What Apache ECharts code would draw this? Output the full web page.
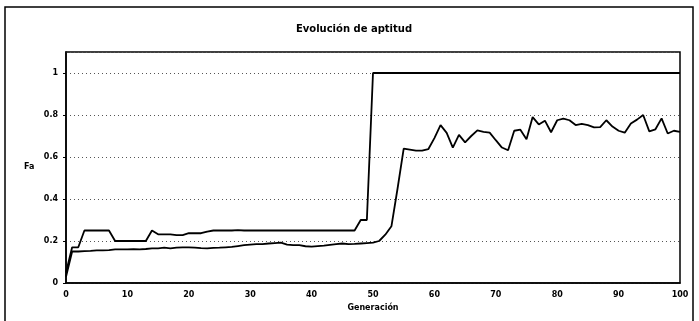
<!DOCTYPE html>
<html>
<head>
<meta charset="utf-8">
<script src="https://cdn.jsdelivr.net/npm/echarts@6/dist/echarts.min.js"></script>
<style>
  html, body { margin: 0; padding: 0; background: #fff; }
  #chart { width: 699px; height: 321px; }
</style>
</head>
<body>
<div id="chart"></div>
<script>
// generaciones 0..100
var generaciones = [];
for (var g = 0; g <= 100; g++) generaciones.push(g);

// mejor aptitud por generacion
var mejor = [
  0.05, 0.17, 0.17, 0.25, 0.25, 0.25, 0.25, 0.25, 0.20, 0.20,
  0.20, 0.20, 0.20, 0.20, 0.25, 0.232, 0.232, 0.232, 0.228, 0.228,
  0.237, 0.237, 0.237, 0.245, 0.25, 0.25, 0.25, 0.25, 0.252, 0.25,
  0.25, 0.25, 0.25, 0.25, 0.25, 0.25, 0.25, 0.25, 0.25, 0.25,
  0.25, 0.25, 0.25, 0.25, 0.25, 0.25, 0.25, 0.25, 0.30, 0.30,
  1, 1, 1, 1, 1, 1, 1, 1, 1, 1,
  1, 1, 1, 1, 1, 1, 1, 1, 1, 1,
  1, 1, 1, 1, 1, 1, 1, 1, 1, 1,
  1, 1, 1, 1, 1, 1, 1, 1, 1, 1,
  1, 1, 1, 1, 1, 1, 1, 1, 1, 1,
  1
];

// aptitud promedio por generacion
var promedio = [
  0.03, 0.15, 0.15, 0.152, 0.153, 0.155, 0.155, 0.157, 0.16, 0.16,
  0.16, 0.161, 0.16, 0.162, 0.165, 0.165, 0.168, 0.165, 0.168, 0.17,
  0.17, 0.168, 0.166, 0.165, 0.167, 0.168, 0.17, 0.172, 0.176, 0.18,
  0.183, 0.185, 0.185, 0.188, 0.19, 0.192, 0.183, 0.18, 0.18, 0.175,
  0.173, 0.176, 0.178, 0.182, 0.185, 0.188, 0.185, 0.186, 0.188, 0.19,
  0.192, 0.20, 0.23, 0.27, 0.45, 0.64, 0.635, 0.63, 0.63, 0.637,
  0.69, 0.752, 0.715, 0.645, 0.705, 0.67, 0.70, 0.727, 0.72, 0.716,
  0.68, 0.645, 0.632, 0.725, 0.73, 0.685, 0.79, 0.755, 0.773, 0.718,
  0.775, 0.783, 0.775, 0.752, 0.758, 0.752, 0.741, 0.742, 0.775, 0.745,
  0.725, 0.716, 0.76, 0.778, 0.80, 0.722, 0.732, 0.784, 0.712, 0.725,
  0.72
];

var yTicks = [0, 0.2, 0.4, 0.6, 0.8, 1];

var chart = echarts.init(document.getElementById('chart'));
var fuente = 'DejaVu Sans, Arial, sans-serif';

var option = {
  backgroundColor: '#fff',
  animation: false,
  title: {
    text: 'Evolución de aptitud',
    left: 349,
    top: 19,
    textAlign: 'center',
    textStyle: { fontFamily: fuente, fontSize: 10, fontWeight: 'bold', color: '#000' }
  },
  graphic: [
    {
      type: 'rect',
      shape: { x: 5, y: 7, width: 688, height: 330 },
      style: { fill: null, stroke: '#000', lineWidth: 1.5 }
    },
    {
      type: 'text',
      left: 24,
      top: 163,
      style: { text: 'Fa', fontFamily: fuente, fontSize: 8, fontWeight: 'bold', fill: '#000' }
    }
  ],
  grid: {
    left: 66,
    right: 19,
    top: 52,
    bottom: 38,
    show: true,
    borderColor: '#000',
    borderWidth: 1.5
  },
  xAxis: {
    type: 'value',
    min: 0,
    max: 100,
    interval: 10,
    name: 'Generación',
    nameLocation: 'middle',
    nameGap: 21,
    nameTextStyle: { fontFamily: fuente, fontSize: 8, fontWeight: 'bold', color: '#000' },
    axisLine: { lineStyle: { color: '#000', width: 1.5 } },
    axisTick: { show: false },
    axisLabel: { fontFamily: fuente, fontSize: 8, fontWeight: 'bold', color: '#000', margin: 8 },
    splitLine: { show: false }
  },
  yAxis: {
    type: 'value',
    min: 0,
    max: 1.1,
    interval: 0.2,
    axisLine: { show: true, lineStyle: { color: '#000', width: 1.5 } },
    axisTick: { show: true, length: 3, lineStyle: { color: '#000' } },
    axisLabel: {
      fontFamily: fuente, fontSize: 8, fontWeight: 'bold', color: '#000', margin: 8,
      showMaxLabel: false,
      formatter: function (v) { return yTicks.indexOf(Math.round(v * 10) / 10) >= 0 ? String(Math.round(v * 10) / 10) : ''; }
    },
    splitLine: { show: true, lineStyle: { color: '#555', type: [1, 3], width: 1 } }
  },
  series: [
    {
      name: 'Mejor',
      type: 'line',
      showSymbol: false,
      data: generaciones.map(function (g, i) { return [g, mejor[i]]; }),
      lineStyle: { color: '#000', width: 1.8 }
    },
    {
      name: 'Promedio',
      type: 'line',
      showSymbol: false,
      data: generaciones.map(function (g, i) { return [g, promedio[i]]; }),
      lineStyle: { color: '#000', width: 1.8 }
    }
  ]
};
chart.setOption(option);
</script>
</body>
</html>
